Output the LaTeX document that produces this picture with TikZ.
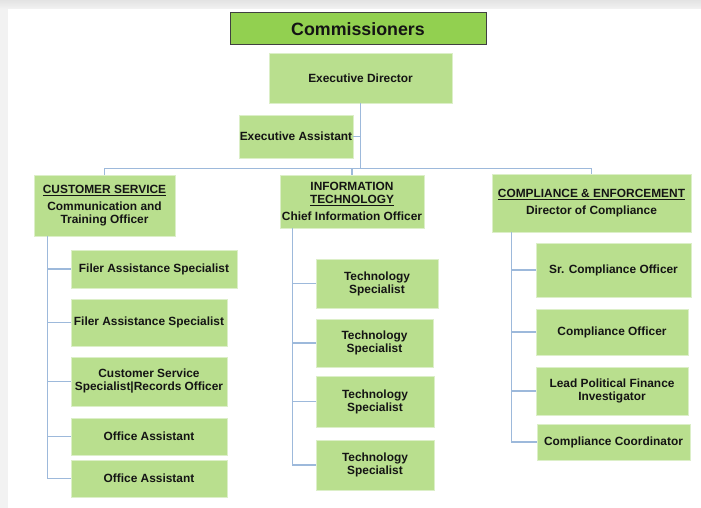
\documentclass[tikz,border=0pt]{standalone}
\usepackage{fontspec}
\setmainfont{Liberation Sans}
\usetikzlibrary{calc}
\definecolor{boxgreen}{HTML}{B9DF8E}
\definecolor{boxedge}{HTML}{DCEFC8}
\definecolor{comgreen}{HTML}{92D050}
\definecolor{linkblue}{HTML}{9DB9DB}
\definecolor{ink}{HTML}{141414}
\tikzset{
  box/.style={fill=boxgreen, draw=boxedge, line width=0.8pt, inner sep=0pt, align=center, text=ink,
    font=\bfseries\fontsize{11.9}{13}\selectfont},
  topbox/.style={box},
  combox/.style={fill=comgreen, draw=black!75, line width=1pt, inner sep=0pt, align=center, text=ink,
    font=\bfseries\fontsize{17.8}{19}\selectfont},
  conn/.style={draw=linkblue, line width=1.4pt}
}
\begin{document}
\begin{tikzpicture}[x=1pt,y=-1pt]
\useasboundingbox (0,0) rectangle (701,508);
% background
\fill[gray!10] (0,0) rectangle (701,508);
\shade[top color=gray!22, bottom color=gray!10] (0,0) rectangle (701,9);
\fill[white] (8,9) rectangle (701,508);

% top
\node[combox, minimum width=256pt, minimum height=32pt] (comm) at (358,29) {Commissioners};
\node[topbox, minimum width=183pt, minimum height=50pt] (ed) at (360.5,78) {Executive Director};
\node[topbox, minimum width=114pt, minimum height=43pt] (ea) at (296,136.5) {Executive Assistant};

% departments
\node[box, minimum width=141pt, minimum height=61pt] (cs) at (104.5,205.5)
  {\underline{CUSTOMER SERVICE}\\[4pt]Communication and\\Training Officer};
\node[box, minimum width=144pt, minimum height=53pt] (it) at (352,201.5)
  {INFORMATION\\\underline{TECHNOLOGY}\\[4pt]Chief Information Officer};
\node[box, minimum width=199pt, minimum height=58pt] (ce) at (591.5,203)
  {\underline{COMPLIANCE \& ENFORCEMENT}\\[4pt]Director of Compliance};

% customer service staff
\node[box, minimum width=166pt, minimum height=38pt] (f1) at (154,269) {Filer Assistance Specialist};
\node[box, minimum width=156pt, minimum height=47pt] (f2) at (149,322.5) {Filer Assistance Specialist};
\node[box, minimum width=156pt, minimum height=49pt] (css) at (149,381.5) {Customer Service\\Specialist|Records Officer};
\node[box, minimum width=156pt, minimum height=37pt] (oa1) at (149,436.5) {Office Assistant};
\node[box, minimum width=156pt, minimum height=37pt] (oa2) at (149,478.5) {Office Assistant};

% IT staff
\node[box, minimum width=122pt, minimum height=49pt] (t1) at (377,283.5) {Technology\\Specialist};
\node[box, minimum width=117pt, minimum height=48pt] (t2) at (374.5,343) {Technology\\Specialist};
\node[box, minimum width=118pt, minimum height=51pt] (t3) at (375,401.5) {Technology\\Specialist};
\node[box, minimum width=118pt, minimum height=50pt] (t4) at (375,465) {Technology\\Specialist};

% compliance staff
\node[box, minimum width=155pt, minimum height=54pt] (s1) at (613.5,270) {Sr. Compliance Officer};
\node[box, minimum width=152pt, minimum height=46pt] (s2) at (612,332) {Compliance Officer};
\node[box, minimum width=152pt, minimum height=48pt] (s3) at (612,391) {Lead Political Finance\\Investigator};
\node[box, minimum width=153pt, minimum height=36pt] (s4) at (613.5,442) {Compliance Coordinator};

% top connectors
\coordinate (bus) at ($(cs.north)+(0,-6)$);
\draw[conn] (ed.south) -- (ed.south |- bus);
\draw[conn] (ea.east) -- (ea.east -| ed.south);
\draw[conn] (cs.north) -- (bus) -| (ce.north);
\draw[conn] (it.north) -- (it.north |- bus);

% customer service connectors
\coordinate (csx) at ($(cs.south west)+(14,0)$);
\draw[conn] (csx) |- (oa2.west);
\foreach \n in {f1,f2,css,oa1} \draw[conn] (csx |- \n.west) -- (\n.west);

% IT connectors
\coordinate (itx) at ($(it.south west)+(13,0)$);
\draw[conn] (itx) |- (t4.west);
\foreach \n in {t1,t2,t3} \draw[conn] (itx |- \n.west) -- (\n.west);

% compliance connectors
\coordinate (cex) at ($(ce.south west)+(20,0)$);
\draw[conn] (cex) |- (s4.west);
\foreach \n in {s1,s2,s3} \draw[conn] (cex |- \n.west) -- (\n.west);
\end{tikzpicture}
\end{document}
